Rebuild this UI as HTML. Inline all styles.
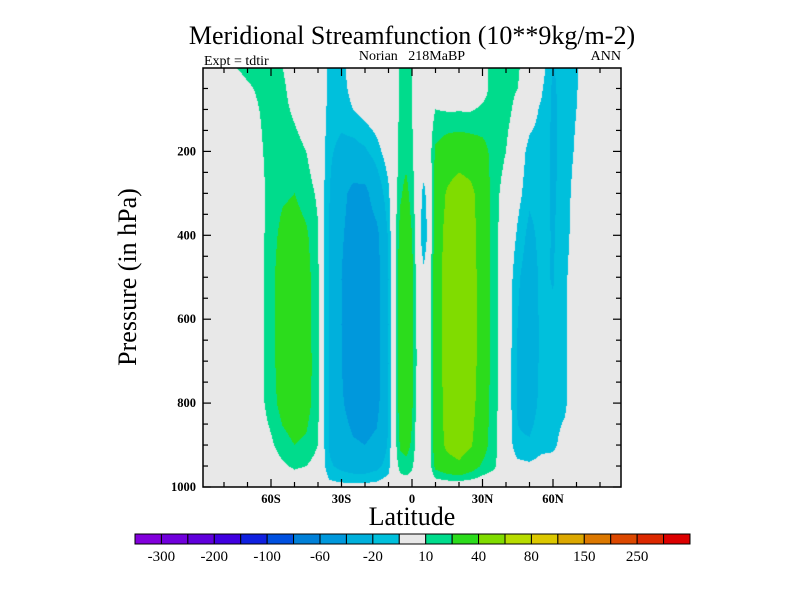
<!DOCTYPE html>
<html><head><meta charset="utf-8"><style>
html,body{margin:0;padding:0;background:#fff;}
#wrap{position:relative;width:800px;height:600px;overflow:hidden;font-family:"Liberation Serif",serif;}
#field{position:absolute;left:203px;top:68px;}
svg{position:absolute;left:0;top:0;}
text{white-space:pre;}
</style></head><body>
<div id="wrap">
<canvas id="field" width="418" height="419"></canvas>
<svg id="ov" width="800" height="600"></svg>
</div>
<script>
// ---- data ----
const lats = [-90,-80,-75,-70,-65,-60,-55,-50,-45,-40,-37,-35,-30,-25,-20,-15,-10,-8,-5,-2.5,0,2.5,5,7.5,10,15,20,25,30,35,40,45,50,55,60,65,70,75,80,90];
const levels = [0,50,100,200,300,400,500,600,700,800,900,950,1000];
const field = [
[0,0,0,0,0,0,0,0,0,0,0,0,0],
[0,0,0,0,0,0,0,0,0,0,0,0,0],
[10,2,0,0,0,0,0,0,0,0,0,0,0],
[14,8,4,0,0,0,0,0,0,0,0,0,0],
[14,12,10,8,6,6,6,6,6,6,4,0,0],
[12,14,14,14,14,15,16,16,16,15,8,2,0],
[10,12,13,16,18,24,28,28,27,25,16,8,0],
[4,5,8,14,20,26,30,30,30,28,20,12,0],
[0,0,3,10,15,22,25,25,26,25,18,10,0],
[0,0,0,2,8,11,12,12,13,13,10,5,0],
[-6,-7,-8,-10,-12,-12,-12,-12,-12,-12,-12,-10,-3],
[-14,-14,-15,-18,-20,-22,-22,-22,-22,-22,-22,-18,-6],
[-13,-14,-15,-24,-35,-38,-40,-40,-40,-38,-32,-24,-6],
[-4,-6,-10,-25,-45,-48,-50,-50,-50,-48,-38,-28,-6],
[0,-2,-5,-22,-45,-50,-52,-52,-52,-50,-40,-28,-6],
[0,0,-2,-14,-30,-45,-48,-48,-48,-46,-36,-24,-5],
[0,0,0,-4,-12,-18,-20,-20,-20,-20,-18,-14,-3],
[0,0,0,0,0,0,0,0,0,0,0,0,0],
[12,12,13,14,18,25,30,30,30,28,22,14,2],
[14,14,14,16,24,30,32,32,32,30,25,16,3],
[10,10,10,12,15,20,24,24,24,22,18,12,2],
[0,0,0,0,0,0,2,5,6,4,2,0,0],
[0,0,0,0,-14,-20,-6,0,0,0,0,0,0],
[0,0,3,5,0,-2,4,5,5,5,5,5,0],
[0,0,10,22,28,30,30,30,30,30,30,24,0],
[0,0,9,28,42,46,48,48,48,46,44,32,0],
[0,0,9,30,50,52,54,54,54,52,50,36,0],
[0,0,9,28,45,48,50,50,50,48,42,28,0],
[6,5,12,24,30,30,30,30,30,28,26,18,0],
[14,15,15,16,14,14,14,14,14,14,13,12,0],
[14,14,14,10,5,2,0,0,0,0,0,0,0],
[12,10,6,-2,-6,-12,-18,-20,-22,-22,-18,-6,0],
[0,0,-4,-14,-17,-24,-28,-30,-30,-28,-18,-8,0],
[-4,-8,-12,-14,-15,-16,-17,-17,-17,-16,-13,-6,0],
[-21,-22,-22,-22,-22,-21,-21,-18,-16,-14,-12,-6,0],
[-14,-15,-16,-16,-15,-14,-12,-12,-12,-12,-6,-2,0],
[-11,-11,-10,-8,-5,-4,-3,-2,-2,-1,0,0,0],
[0,0,0,0,0,0,0,0,0,0,0,0,0],
[0,0,0,0,0,0,0,0,0,0,0,0,0],
[0,0,0,0,0,0,0,0,0,0,0,0,0]
];
const bounds = [-300,-250,-200,-150,-100,-80,-60,-40,-20,-10,10,20,40,60,80,100,150,200,250,300];
const colors = ["#8200dc","#7000dc","#6000dc","#4000e0","#1020e0","#0050e0","#0080d8","#0098dc","#00b0dc","#00c0dc","#e8e8e8","#00dc8c","#2cdc1c","#80dc00","#b8dc00","#dcc800","#dca800","#dc7800","#dc4800","#dc2800","#dc0000"];
const cbLabels = ["-300","-200","-100","-60","-20","10","40","80","150","250"];
const latTicks = [-60,-30,0,30,60];
const latTickLabels = ["60S","30S","0","30N","60N"];
const pTicks = [200,400,600,800,1000];

// ---- scales ----
const X0=203,X1=621,Y0=68,Y1=487;
const xs = lat => 412 + lat*2.35;
const ys = p => 67.5 + p*0.4195;
const latOf = x => (x-412)/2.35;
const pOf = y => (y-67.5)/0.4195;

function seg(arr,v){let i=0;while(i<arr.length-2&&v>arr[i+1])i++;return i;}
function val(lat,p){
  lat=Math.max(lats[0],Math.min(lats[lats.length-1],lat));
  p=Math.max(0,Math.min(1000,p));
  const i=seg(lats,lat),j=seg(levels,p);
  const tx=(lat-lats[i])/(lats[i+1]-lats[i]),ty=(p-levels[j])/(levels[j+1]-levels[j]);
  const a=field[i][j],b=field[i+1][j],c=field[i][j+1],d=field[i+1][j+1];
  return (a*(1-tx)+b*tx)*(1-ty)+(c*(1-tx)+d*tx)*ty;
}
function colorIdx(v){let k=0;while(k<bounds.length&&v>=bounds[k])k++;return k;}
function hex(h){return [parseInt(h.substr(1,2),16),parseInt(h.substr(3,2),16),parseInt(h.substr(5,2),16)];}
const rgb=colors.map(hex);

// ---- field ----
const cv=document.getElementById('field');const ctx=cv.getContext('2d');
const W=cv.width,H=cv.height;const img=ctx.createImageData(W,H);
for(let y=0;y<H;y++){const p=pOf(Y0+y+0.5);for(let x=0;x<W;x++){
  const c=rgb[colorIdx(val(latOf(X0+x+0.5),p))];const o=(y*W+x)*4;
  img.data[o]=c[0];img.data[o+1]=c[1];img.data[o+2]=c[2];img.data[o+3]=255;}}
ctx.putImageData(img,0,0);

// ---- overlay ----
const svg=document.getElementById('ov');const NS='http://www.w3.org/2000/svg';
function mk(tag,attrs,txt){const e=document.createElementNS(NS,tag);for(const k in attrs)e.setAttribute(k,attrs[k]);if(txt!==undefined)e.textContent=txt;svg.appendChild(e);return e;}
let e;
e=mk('rect',{x:X0,y:Y0,width:X1-X0,height:Y1-Y0,fill:'none',stroke:'#000','stroke-width':1.5});


for(let lat=-80;lat<=80;lat+=10){
  const major=lat%30===0;const L=major?8:5;const x=xs(lat);
  e=mk('line',{x1:x,x2:x,y1:Y1,y2:Y1-L,stroke:'#000','stroke-width':1.2});
  
  
  e=mk('line',{x1:x,x2:x,y1:Y0,y2:Y0+L,stroke:'#000','stroke-width':1.2});
  
  
}
latTicks.forEach((lat,i)=>{
  e=mk('text',{x:xs(lat),y:503,'text-anchor':'middle','font-size':12.5,'font-weight':'bold','font-family':'Liberation Serif, serif'},latTickLabels[i]);
  
  
});
for(let p=50;p<=1000;p+=50){
  const major=p%200===0;const L=major?8:5;const y=ys(p);
  e=mk('line',{x1:X0,x2:X0+L,y1:y,y2:y,stroke:'#000','stroke-width':1.2});
  
  
  e=mk('line',{x1:X1,x2:X1-L,y1:y,y2:y,stroke:'#000','stroke-width':1.2});
  
  
}
pTicks.forEach(p=>{
  e=mk('text',{x:196,y:ys(p)+4,'text-anchor':'end','font-size':12.5,'font-weight':'bold','font-family':'Liberation Serif, serif'},String(p));
  
  
});
e=mk('text',{x:412,y:44,'text-anchor':'middle','font-size':26,'font-family':'Liberation Serif, serif'},'Meridional Streamfunction (10**9kg/m-2)');


e=mk('text',{x:204,y:65,'font-size':14,'font-family':'Liberation Serif, serif'},'Expt = tdtir');


e=mk('text',{x:412,y:60,'text-anchor':'middle','font-size':14,'font-family':'Liberation Serif, serif'},'Norian   218MaBP');


e=mk('text',{x:621,y:60,'text-anchor':'end','font-size':14,'font-family':'Liberation Serif, serif'},'ANN');


e=mk('text',{x:412,y:525,'text-anchor':'middle','font-size':26,'font-family':'Liberation Serif, serif'},'Latitude');


e=mk('text',{x:0,y:0,'text-anchor':'middle','font-size':26,'font-family':'Liberation Serif, serif',transform:'translate(136,277) rotate(-90)'},'Pressure (in hPa)');


const CB0=135,CB1=690,CBy=534,CBh=10;const bw=(CB1-CB0)/colors.length;
colors.forEach((c,i)=>{
  e=mk('rect',{x:CB0+i*bw,y:CBy,width:bw,height:CBh,fill:c,stroke:'#000','stroke-width':1});
  
  
});
cbLabels.forEach((t,i)=>{
  e=mk('text',{x:CB0+(2*i+1)*bw,y:561,'text-anchor':'middle','font-size':15,'font-family':'Liberation Serif, serif'},t);
  
  
});
</script>
</body></html>
